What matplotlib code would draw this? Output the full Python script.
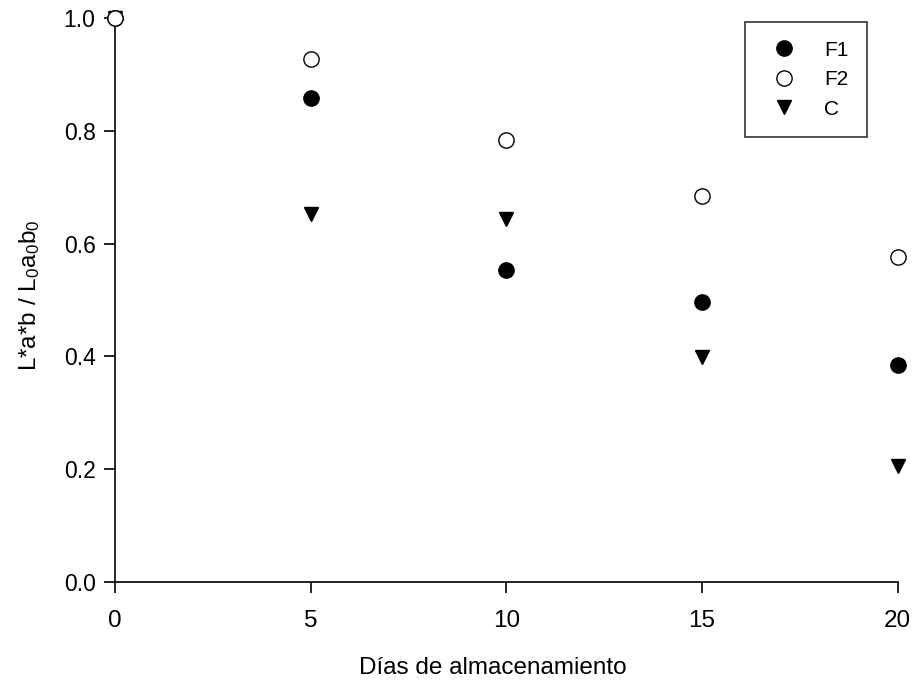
import matplotlib
matplotlib.use('Agg')
import matplotlib.pyplot as plt

# storage days and normalised colour ratio for each formulation
dias = [0, 5, 10, 15, 20]
f1 = [1.0, 0.858, 0.553, 0.496, 0.385]
f2 = [1.0, 0.927, 0.784, 0.684, 0.576]
c = [1.0, 0.652, 0.644, 0.399, 0.206]

plt.rcParams['font.family'] = ['Liberation Sans', 'DejaVu Sans']
plt.rcParams['mathtext.fontset'] = 'custom'
plt.rcParams['mathtext.rm'] = 'Liberation Sans'
plt.rcParams['mathtext.it'] = 'Liberation Sans'

fig = plt.figure(figsize=(9.17, 6.81), dpi=100)
ax = fig.add_axes([0.1254, 0.1454, 0.8536, 0.8282])

ax.plot(dias, f1, 'o', color='black', markersize=11, label='F1', clip_on=False, zorder=3)
ax.plot(dias, f2, 'o', markerfacecolor='white', markeredgecolor='black',
        markeredgewidth=1, markersize=11, label='F2', clip_on=False, zorder=4)
ax.plot(dias, c, 'v', color='black', markersize=10.5, label='C', clip_on=False, zorder=3)

ax.set_xlim(0, 20)
ax.set_ylim(0, 1.0)
ax.set_xticks([0, 5, 10, 15, 20])
ax.set_yticks([0.0, 0.2, 0.4, 0.6, 0.8, 1.0])
ax.set_yticklabels(['0.0', '0.2', '0.4', '0.6', '0.8', '1.0'])

for side in ['top', 'right']:
    ax.spines[side].set_visible(False)
for side in ['left', 'bottom']:
    ax.spines[side].set_linewidth(1.2)

ax.tick_params(direction='out', length=8, width=1.2)
ax.tick_params(axis='y', labelsize=16.5, pad=6)
ax.tick_params(axis='x', labelsize=17.5, pad=12)

ax.set_xlabel('Días de almacenamiento', fontsize=17.5)
ax.xaxis.set_label_coords((493 - 115) / 783, -0.133)
ax.set_ylabel(r'L*a*b / L$_0$a$_0$b$_0$', fontsize=17.5)
ax.yaxis.set_label_coords(-0.093, (582 - 295) / 564)

leg = ax.legend(loc='upper left', bbox_to_anchor=(0.8046, 0.993), fontsize=15,
                frameon=True, fancybox=False, edgecolor='black',
                borderpad=0.9, handletextpad=0.9, labelspacing=0.5,
                borderaxespad=0)
leg.get_frame().set_linewidth(1.2)

fig.savefig('out.png', dpi=100)
